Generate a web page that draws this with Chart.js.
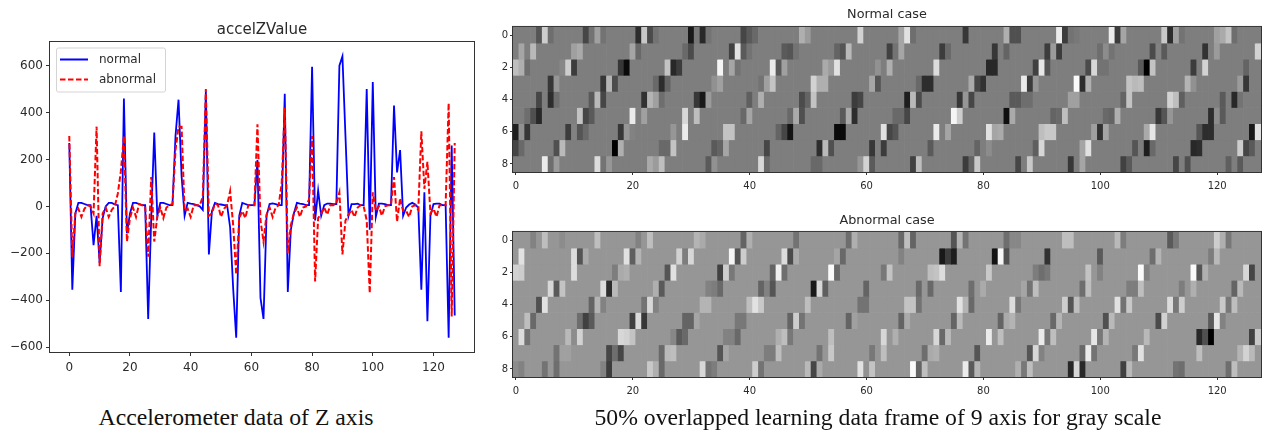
<!DOCTYPE html>
<html><head><meta charset="utf-8">
<script src="https://cdn.jsdelivr.net/npm/chart.js@4/dist/chart.umd.js"></script>
<style>
html,body{margin:0;padding:0;background:#fff;overflow:hidden}
body{width:1262px;height:431px;position:relative}
canvas{position:absolute;filter:blur(.45px)}
#heatA,#heatB{filter:blur(.7px)}
.cap{position:absolute;font-family:"Liberation Serif",serif;font-size:23.7px;color:#111;white-space:nowrap;transform:translateX(-50%);top:403px;line-height:28px}
</style></head><body>
<canvas id="lines" width="490" height="400" style="left:0;top:0"></canvas>
<canvas id="heatA" width="772" height="200" style="left:490px;top:0"></canvas>
<canvas id="heatB" width="772" height="200" style="left:490px;top:205px"></canvas>
<div class="cap" style="left:236px">Accelerometer data of Z axis</div>
<div class="cap" style="left:878px">50% overlapped learning data frame of 9 axis for gray scale</div>
<script>
const normalValues=[270,-355,-30,15,15,10,5,5,-165,-40,-240,-50,0,15,15,8,5,-365,460,-115,-30,15,15,10,5,5,-480,-50,315,-40,15,15,10,5,5,300,455,130,-40,15,12,10,5,0,-15,490,-205,-20,15,10,8,5,5,-90,-350,-560,-40,15,10,5,5,5,198,-390,-480,-40,10,13,10,5,5,480,-365,-100,-30,15,12,10,5,5,595,-60,68,-40,5,12,12,10,10,600,640,300,-40,10,10,12,5,5,500,-100,530,-45,12,12,10,5,5,430,145,240,-40,-5,8,15,8,-5,-355,60,-490,-40,10,12,12,5,5,-560,260,-465];
const abnormalValues=[300,-215,-30,-10,-45,-10,5,0,-30,340,-255,-30,-5,-45,-15,0,55,150,300,-150,-50,-5,-45,10,5,0,-215,125,-150,-45,-5,-50,-5,5,10,240,340,340,-20,-10,-45,5,5,5,40,500,-40,-30,12,5,-45,-10,5,65,-80,-290,-50,-20,-50,5,5,5,350,-60,-150,-35,-5,-45,-5,5,100,420,-200,-80,-30,-5,-45,-5,0,30,300,-320,-50,-30,-5,-35,5,5,15,60,-205,-60,-35,-15,-45,-5,5,0,-60,-370,60,-20,0,-40,0,5,5,125,-65,35,-20,-20,-45,0,5,-15,320,75,190,-30,-10,-45,5,5,5,440,-470,270];
const lineTicksX=[0,20,40,60,80,100,120];
const lineTicksY=[-600,-400,-200,0,200,400,600];
const heatTicksX=[0,20,40,60,80,100,120];
const heatTicksY=[0,2,4,6,8];
const columnCount=128;
const normalBase=126, abnormalBase=150;
// each row lists column, gray level pairs for the cells that differ from the base level
const normalRow0=[4,85,5,205,6,110,12,70,13,115,14,160,15,115,21,45,22,200,23,75,24,115,30,25,31,120,32,40,33,115,39,70,40,90,41,105,49,175,50,155,59,210,66,165,67,225,68,110,77,55,84,175,85,80,86,80,93,235,94,60,95,115,96,120,102,235,103,60,104,165,111,200,112,45,113,160,114,115,120,160,121,170,122,195,123,110];
const normalRow1=[1,165,3,185,10,160,11,170,20,165,21,105,29,105,30,75,37,65,38,225,39,90,40,115,46,90,47,85,48,115,55,100,56,85,57,185,64,65,65,115,66,165,73,60,74,105,82,55,84,100,91,60,92,155,93,60,100,110,101,140,102,115,109,75,110,130,111,90,118,50,120,155,127,210];
const normalRow2=[0,190,1,175,2,110,8,135,9,205,10,60,18,55,19,10,26,195,27,40,28,60,35,245,37,165,38,115,44,235,45,90,46,160,53,170,54,155,55,225,62,145,64,175,72,220,81,40,82,40,89,65,90,230,91,85,98,75,99,215,100,115,101,115,107,90,108,0,109,195,116,60,118,210,125,100];
const normalRow3=[6,55,7,150,15,55,16,180,17,75,24,105,25,45,26,100,34,145,35,160,42,115,43,160,44,195,51,210,52,175,53,175,61,165,62,85,69,105,70,45,71,45,78,170,79,70,80,50,87,235,88,60,89,150,96,250,97,45,98,175,105,195,106,185,107,190,115,180,116,145,124,155,125,55];
const normalRow4=[4,70,6,45,7,110,13,90,14,185,15,70,22,50,23,180,24,160,25,110,31,55,32,25,33,155,40,95,42,175,49,75,50,100,51,195,58,60,59,70,67,30,68,185,69,75,76,55,77,150,78,70,85,90,86,90,87,110,88,110,95,160,96,160,104,100,105,195,112,210,113,190,114,95,121,90,123,40,124,115];
const normalRow5=[2,110,3,80,4,40,11,195,12,70,13,90,20,235,22,160,29,215,31,190,39,105,40,165,47,105,48,170,49,80,56,90,57,170,58,45,65,105,66,105,67,70,75,245,76,205,84,15,85,170,92,100,93,105,94,190,101,105,102,100,103,175,110,55,111,85,112,150,119,45,120,140,121,90];
const normalRow6=[0,30,1,145,2,55,9,60,10,130,11,85,12,105,18,55,19,150,20,130,27,150,29,235,36,195,37,195,45,100,46,70,47,20,55,10,56,10,63,225,64,70,65,85,72,235,74,165,81,225,82,165,83,170,90,190,91,200,92,200,99,160,100,50,101,165,108,170,109,230,117,85,118,45,119,45,126,25,127,225];
const normalRow7=[0,70,1,105,7,80,8,185,17,0,18,175,25,105,26,105,27,195,34,90,35,100,36,165,43,70,52,45,53,185,54,80,61,55,63,60,71,90,79,100,81,140,89,95,90,215,97,165,98,225,106,85,108,30,109,105,116,40,117,45,124,205,125,70,126,90];
const normalRow8=[5,235,6,110,7,155,14,220,15,115,16,150,23,170,24,155,25,190,33,90,34,145,42,215,43,105,51,105,52,105,59,150,60,210,61,90,68,65,69,190,77,60,78,100,79,200,86,70,87,125,88,200,95,55,97,165,104,65,105,90,113,70,115,80,122,95,124,90];
const abnormalRow0=[3,130,5,190,8,140,14,190,21,130,23,190,31,180,32,170,39,100,40,175,48,115,57,110,58,175,66,105,67,190,68,100,75,85,76,180,77,115,84,110,85,135,86,135,94,190,95,190,103,185,104,125,112,90,113,120,120,205,121,175,122,120];
const abnormalRow1=[1,225,10,220,11,85,12,170,19,225,20,95,21,180,28,210,29,125,30,215,37,245,38,85,39,205,46,220,47,75,48,170,55,165,56,105,66,130,73,25,74,60,75,30,82,20,83,245,84,80,91,50,100,90,109,110,110,180,119,125,120,185];
const abnormalRow2=[0,210,1,205,10,220,17,125,18,170,19,175,26,85,27,225,35,65,36,205,37,120,44,100,45,240,46,110,54,250,55,105,63,120,64,195,71,190,72,195,73,220,81,200,89,125,90,110,91,120,98,195,100,130,107,250,108,130,116,250,117,85,118,175,125,215,126,70];
const abnormalRow3=[6,215,7,90,8,195,15,220,16,45,17,185,24,175,25,90,33,130,34,125,35,105,42,100,43,130,44,85,51,25,52,215,53,95,60,100,69,105,71,105,78,110,80,170,87,165,88,115,89,190,97,110,98,190,105,125,106,125,107,190,114,125,116,175,123,100,124,185];
const abnormalRow4=[4,80,5,225,13,100,14,180,15,130,22,115,23,215,24,130,32,180,33,180,40,190,41,225,42,200,50,190,59,115,60,115,67,195,68,195,69,115,76,225,77,180,78,105,85,220,86,120,94,205,95,85,96,190,103,225,104,115,105,200,112,220,113,120,114,205,121,200,122,120,123,190];
const abnormalRow5=[2,190,3,105,11,110,12,65,13,90,20,65,21,220,22,55,29,100,30,100,31,165,38,120,39,120,47,100,48,205,49,115,57,100,58,160,66,100,67,170,75,100,76,185,83,100,84,170,85,180,92,105,93,180,101,80,102,185,110,75,111,210,119,90,120,230,121,130];
const abnormalRow6=[1,220,2,115,9,185,10,140,11,210,18,215,19,210,20,195,27,135,28,90,29,105,36,130,37,130,38,105,45,175,46,190,47,120,54,190,63,215,65,175,72,215,73,105,74,185,81,235,83,190,90,235,91,120,92,190,99,230,100,120,101,180,108,185,117,40,118,80,119,0,126,65,127,200];
const abnormalRow7=[7,115,8,160,9,160,16,70,17,110,18,70,25,105,26,185,27,190,35,85,36,165,43,125,44,125,45,190,52,115,54,200,61,120,63,190,70,110,71,170,72,175,79,85,88,85,89,215,90,130,97,105,98,235,99,115,106,120,107,225,117,190,124,180,125,210,126,185];
const abnormalRow8=[0,140,1,130,5,115,7,110,15,130,16,60,23,200,24,175,25,105,32,215,33,115,34,125,41,205,42,115,50,185,51,70,52,170,59,225,60,145,61,195,68,250,69,100,70,190,77,235,78,90,79,180,86,175,87,120,88,190,95,40,96,215,97,40,104,65,105,185,113,115,114,110,122,110,123,190];
const normalRows=[normalRow0,normalRow1,normalRow2,normalRow3,normalRow4,normalRow5,normalRow6,normalRow7,normalRow8];
const abnormalRows=[abnormalRow0,abnormalRow1,abnormalRow2,abnormalRow3,abnormalRow4,abnormalRow5,abnormalRow6,abnormalRow7,abnormalRow8];

const TEXT='#2a2a2a', AXIS='#333';
const LEGEND_PAD=8;
Chart.defaults.font.family='"DejaVu Sans",sans-serif';
Chart.defaults.color=TEXT;
const frame={id:'frame',afterDatasetsDraw(c){
  const a=c.chartArea,x=c.ctx;x.save();x.strokeStyle=AXIS;x.lineWidth=1;
  x.strokeRect(a.left-.5,a.top-.5,a.right-a.left+1,a.bottom-a.top+1);x.restore();
}};
// the library's legend, moved inside the axes, with a rounded frame and line samples
const legendInside={id:'legendInside',
  afterLayout(c){
    const l=c.legend,a=c.chartArea;
    const dy=a.top+3.5-l.top;
    l.top+=dy;l.left+=2;
    l.legendHitBoxes.forEach(b=>{b.top+=dy;});
  },
  afterDatasetsDraw(c){
    const l=c.legend,h=l.legendHitBoxes,x=c.ctx,lx=l.left+LEGEND_PAD;
    const left=lx-4,top=h[0].top-6;
    const right=lx+Math.max(...h.map(b=>b.width))+9,bottom=h[h.length-1].top+h[h.length-1].height+6;
    x.save();x.strokeStyle='#d4d4d4';x.lineWidth=1;x.beginPath();x.roundRect(left+.5,top+.5,right-left,bottom-top,2);x.stroke();
    h.forEach((b,i)=>{
      const d=c.data.datasets[i],y=b.top+b.height/2;
      x.strokeStyle=d.borderColor;x.lineWidth=2;x.setLineDash(d.borderDash||[]);
      x.beginPath();x.moveTo(lx,y);x.lineTo(lx+28,y);x.stroke();
    });
    x.restore();
  }};
const fixTicks=v=>s=>{s.ticks=v.map(value=>({value}));};
const axisLook=(len)=>({display:true,offset:false,drawOnChartArea:false,drawTicks:true,tickLength:len,tickColor:AXIS,color:AXIS});

new Chart(document.getElementById('lines'),{
  type:'line',
  data:{datasets:[
    {label:'normal',data:normalValues.map((y,x)=>({x,y})),borderColor:'#0000ff',backgroundColor:'#0000ff',borderWidth:1.8,pointRadius:0,tension:0,order:1},
    {label:'abnormal',data:abnormalValues.map((y,x)=>({x,y})),borderColor:'#ff0000',backgroundColor:'#ff0000',borderWidth:2,borderDash:[5.5,2.5],pointRadius:0,tension:0,order:0}
  ]},
  options:{responsive:false,animation:false,events:[],
    layout:{padding:{right:16,left:0,top:0,bottom:0}},
    plugins:{
      tooltip:{enabled:false},
      title:{display:true,fullSize:false,text:'accelZValue',font:{size:15,weight:'normal'},color:TEXT,padding:{top:21,bottom:3}},
      legend:{position:'chartArea',align:'start',labels:{boxWidth:33,boxHeight:0,font:{size:12},color:TEXT,padding:LEGEND_PAD,
        sort:(a,b)=>a.datasetIndex-b.datasetIndex,
        generateLabels:c=>Chart.defaults.plugins.legend.labels.generateLabels(c).map(i=>({...i,lineWidth:0,fillStyle:'rgba(0,0,0,0)'}))}}
    },
    scales:{
      x:{type:'linear',min:-6.35,max:133.35,afterBuildTicks:fixTicks(lineTicksX),afterFit:s=>{s.height=48},
        grid:axisLook(4),border:{display:false},ticks:{font:{size:12},color:TEXT,padding:5,maxRotation:0,callback:v=>String(v)}},
      y:{type:'linear',min:-621,max:701,afterBuildTicks:fixTicks(lineTicksY),afterFit:s=>{s.width=50},
        grid:axisLook(4),border:{display:false},ticks:{font:{size:12},color:TEXT,padding:3,callback:v=>String(v).replace('-','\u2212')}}
    }},
  plugins:[frame,legendInside]
});

function heat(id,title,rows,base){
  const datasets=rows.map((row,r)=>{
    const levels=new Array(columnCount).fill(base);
    for(let i=0;i<row.length;i+=2)levels[row[i]]=row[i+1];
    return {data:levels.map((_,x)=>({x,y:[r-.5,r+.5]})),
      backgroundColor:levels.map(g=>`rgb(${g},${g},${g})`),
      borderWidth:0,borderSkipped:false,barPercentage:1,categoryPercentage:1,grouped:false};
  });
  new Chart(document.getElementById(id),{
    type:'bar',data:{datasets},
    options:{responsive:false,animation:false,events:[],
      layout:{padding:{right:1,left:0,top:0,bottom:0}},
      plugins:{tooltip:{enabled:false},legend:{display:false},
        title:{display:true,fullSize:false,text:title,font:{size:12.8,weight:'normal'},color:TEXT,padding:{top:id==='heatA'?7.3:8.3,bottom:id==='heatA'?4.3:3.3}}},
      scales:{
        x:{type:'linear',offset:false,min:-.5,max:127.5,afterBuildTicks:fixTicks(heatTicksX),afterFit:s=>{s.height=28},
          grid:axisLook(3),border:{display:false},ticks:{font:{size:10},color:TEXT,padding:5,maxRotation:0,callback:v=>String(v)}},
        y:{type:'linear',reverse:true,min:-.5,max:8.5,afterBuildTicks:fixTicks(heatTicksY),afterFit:s=>{s.width=23},
          grid:axisLook(3),border:{display:false},ticks:{font:{size:10},color:TEXT,padding:2,callback:v=>String(v)}}
      }},
    plugins:[frame]
  });
}
heat('heatA','Normal case',normalRows,normalBase);
heat('heatB','Abnormal case',abnormalRows,abnormalBase);
</script>
</body></html>
